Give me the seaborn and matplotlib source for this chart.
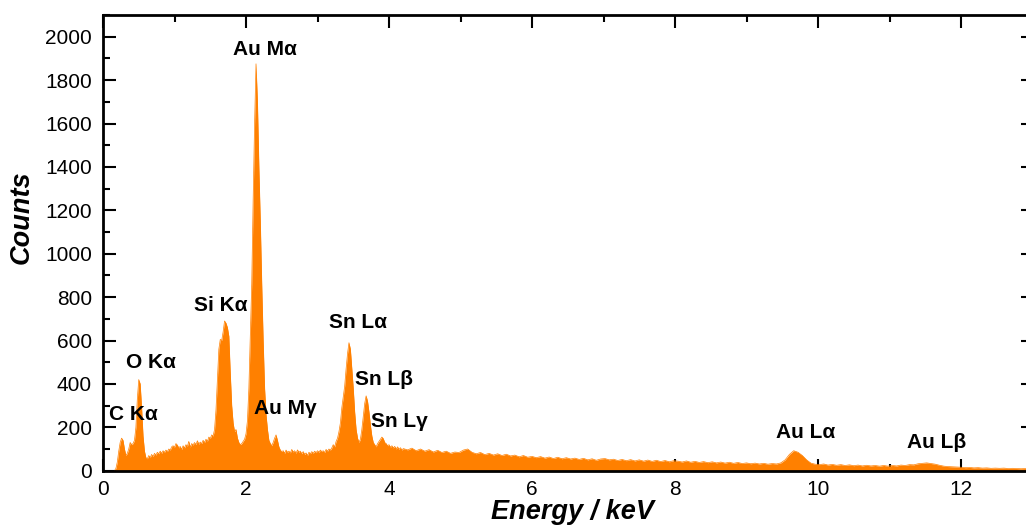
import numpy as np
import pandas as pd
import matplotlib
matplotlib.use("Agg")
import matplotlib.pyplot as plt
from matplotlib.ticker import MultipleLocator
import seaborn as sns

# ---- data ----
energy_low = [0.16, 0.18, 0.20, 0.22, 0.24, 0.26, 0.28, 0.30, 0.32, 0.34, 0.36, 0.38, 0.40, 0.42, 0.44, 0.46, 0.48, 0.50,
              0.52, 0.54, 0.56, 0.58, 0.60, 0.62, 0.64, 0.66, 0.68, 0.70, 0.72, 0.74, 0.76, 0.78, 0.80, 0.82, 0.84, 0.86,
              0.88, 0.90, 0.92, 0.94, 0.96, 0.98, 1.00, 1.02, 1.04, 1.06, 1.08, 1.10, 1.12, 1.14, 1.16, 1.18, 1.20, 1.22,
              1.24, 1.26, 1.28, 1.30, 1.32, 1.34, 1.36, 1.38, 1.40, 1.42, 1.44, 1.46, 1.48, 1.50, 1.52, 1.54, 1.56, 1.58,
              1.60, 1.62, 1.64, 1.66, 1.68, 1.70, 1.72, 1.74, 1.76, 1.78, 1.80, 1.82, 1.84, 1.86, 1.88, 1.90, 1.92, 1.94,
              1.96, 1.98, 2.00, 2.02, 2.04, 2.06, 2.08, 2.10, 2.12, 2.14, 2.16, 2.18, 2.20, 2.22, 2.24, 2.26, 2.28, 2.30,
              2.32, 2.34, 2.36, 2.38, 2.40, 2.42, 2.44, 2.46, 2.48, 2.50, 2.52, 2.54, 2.56, 2.58, 2.60, 2.62, 2.64, 2.66,
              2.68, 2.70, 2.72, 2.74, 2.76, 2.78, 2.80, 2.82, 2.84, 2.86, 2.88, 2.90, 2.92, 2.94, 2.96, 2.98, 3.00, 3.02,
              3.04, 3.06, 3.08, 3.10, 3.12, 3.14, 3.16, 3.18, 3.20, 3.22, 3.24, 3.26, 3.28, 3.30, 3.32, 3.34, 3.36, 3.38,
              3.40, 3.42, 3.44, 3.46, 3.48, 3.50, 3.52, 3.54, 3.56, 3.58, 3.60, 3.62, 3.64, 3.66, 3.68, 3.70, 3.72, 3.74,
              3.76, 3.78, 3.80, 3.82, 3.84, 3.86, 3.88, 3.90, 3.92, 3.94, 3.96, 3.98, 4.00, 4.02, 4.04, 4.06, 4.08, 4.10,
              4.12, 4.14, 4.16, 4.18, 4.20]
counts_low = [0, 10, 40, 90, 130, 150, 140, 100, 70, 80, 100, 130, 120, 125, 140, 200, 330, 420,
              400, 290, 160, 90, 60, 55, 70, 60, 75, 65, 80, 72, 85, 78, 90, 80, 92, 85,
              95, 88, 100, 95, 110, 115, 108, 125, 118, 105, 112, 98, 115, 105, 120, 112, 135, 108,
              125, 118, 130, 120, 138, 122, 132, 125, 140, 130, 145, 135, 155, 148, 165, 160, 190, 280,
              420, 560, 605, 600, 640, 690, 680, 660, 620, 450, 300, 220, 180, 190, 150, 130, 120, 125,
              135, 145, 170, 230, 380, 620, 860, 1250, 1600, 1875, 1700, 1400, 1150, 860, 600, 380, 260, 190,
              140, 125, 115, 130, 150, 165, 140, 110, 95, 88, 92, 80, 95, 85, 90, 82, 98, 86,
              92, 80, 96, 85, 90, 78, 88, 75, 82, 70, 85, 78, 88, 80, 90, 83, 92, 85,
              95, 88, 92, 84, 98, 90, 100, 95, 105, 120, 110, 135, 150, 180, 220, 290, 340, 390,
              470, 540, 590, 560, 470, 380, 270, 190, 150, 130, 145, 190, 250, 310, 345, 320, 270, 210,
              160, 130, 120, 110, 125, 135, 145, 155, 148, 130, 125, 115, 120, 108, 115, 105, 112, 100,
              110, 98, 106, 95, 102]

energy_high = [4.26, 4.32, 4.38, 4.44, 4.50, 4.56, 4.62, 4.68, 4.74, 4.80, 4.86, 4.92, 4.98, 5.04, 5.10, 5.16, 5.22, 5.28,
               5.34, 5.40, 5.46, 5.52, 5.58, 5.64, 5.70, 5.76, 5.82, 5.88, 5.94, 6.00, 6.06, 6.12, 6.18, 6.24, 6.30, 6.36,
               6.42, 6.48, 6.54, 6.60, 6.66, 6.72, 6.78, 6.84, 6.90, 6.96, 7.02, 7.08, 7.14, 7.20, 7.26, 7.32, 7.38, 7.44,
               7.50, 7.56, 7.62, 7.68, 7.74, 7.80, 7.86, 7.92, 7.98, 8.04, 8.10, 8.16, 8.22, 8.28, 8.34, 8.40, 8.46, 8.52,
               8.58, 8.64, 8.70, 8.76, 8.82, 8.88, 8.94, 9.00, 9.06, 9.12, 9.18, 9.24, 9.30, 9.36, 9.42, 9.48, 9.54, 9.60,
               9.66, 9.72, 9.78, 9.84, 9.90, 9.96, 10.02, 10.08, 10.14, 10.20, 10.26, 10.32, 10.38, 10.44, 10.50, 10.56,
               10.62, 10.68, 10.74, 10.80, 10.86, 10.92, 10.98, 11.04, 11.10, 11.16, 11.22, 11.28, 11.34, 11.40, 11.46,
               11.52, 11.58, 11.64, 11.70, 11.76, 11.82, 11.88, 11.94, 12.00, 12.06, 12.12, 12.18, 12.24, 12.30, 12.36,
               12.42, 12.48, 12.54, 12.60, 12.66, 12.72, 12.78, 12.84, 12.90, 12.96]
counts_high = [96, 104, 92, 100, 90, 97, 86, 94, 84, 90, 80, 86, 84, 95, 100, 85, 78, 84,
               74, 80, 72, 78, 70, 76, 68, 72, 64, 70, 62, 66, 60, 65, 58, 63, 56, 62,
               55, 60, 54, 58, 52, 57, 50, 55, 48, 54, 56, 50, 53, 47, 52, 46, 51, 45,
               50, 44, 49, 43, 48, 42, 47, 41, 46, 44, 40, 45, 39, 43, 38, 42, 37, 41,
               36, 40, 35, 39, 34, 38, 33, 36, 32, 35, 31, 34, 30, 33, 31, 36, 50, 75,
               92, 85, 70, 50, 35, 30, 28, 31, 26, 29, 25, 28, 24, 27, 23, 26,
               22, 25, 22, 24, 21, 24, 21, 24, 22, 26, 24, 28, 27, 32, 34,
               36, 33, 30, 25, 21, 19, 18, 17, 16, 14, 15, 13, 14, 12, 13,
               11, 12, 11, 12, 10, 11, 10, 9, 10, 9]

peak_labels = ["Au M\u03b1", "Si K\u03b1", "O K\u03b1", "C K\u03b1", "Au M\u03b3",
               "Sn L\u03b1", "Sn L\u03b2", "Sn L\u03b3", "Au L\u03b1", "Au L\u03b2"]
label_energy = [2.27, 1.64, 0.67, 0.42, 2.55, 3.57, 3.93, 4.15, 9.83, 11.66]
label_counts = [1940, 759, 497, 261, 285, 681, 418, 225, 178, 128]

x_ticks = [0, 2, 4, 6, 8, 10, 12]
y_ticks = [0, 200, 400, 600, 800, 1000, 1200, 1400, 1600, 1800, 2000]

# ---- plotting ----
sns.set_theme(style="ticks")
plt.rcParams["font.family"] = ["Liberation Sans", "DejaVu Sans"]

df = pd.DataFrame({"Energy": energy_low + energy_high,
                   "Counts": counts_low + counts_high})

color = "#FF8000"
fig = plt.figure(figsize=(10.26, 5.26), dpi=100)
ax = fig.add_axes([103 / 1026, (526 - 470.7) / 526, 929.5 / 1026, 455.7 / 526])

sns.lineplot(data=df, x="Energy", y="Counts", ax=ax, color=color, linewidth=0.5)
ax.fill_between(df["Energy"], 0, df["Counts"], color=color, linewidth=0)

ax.set_xlim(0, 13)
ax.set_ylim(0, 2100)
ax.set_xticks(x_ticks)
ax.set_yticks(y_ticks)
ax.xaxis.set_minor_locator(MultipleLocator(1))
ax.yaxis.set_minor_locator(MultipleLocator(100))
ax.tick_params(which="both", direction="in", top=True, right=True, colors="black",
               labelsize=15, width=1.5)
ax.tick_params(which="major", length=9)
ax.tick_params(which="minor", length=5)
ax.tick_params(axis="x", pad=7)
ax.tick_params(axis="y", pad=8)
for sp in ax.spines.values():
    sp.set_linewidth(2)
    sp.set_color("black")

ax.set_xlabel("Energy / keV", fontsize=19.5, fontweight="bold", fontstyle="italic", color="black")
ax.set_ylabel("Counts", fontsize=19.5, fontweight="bold", fontstyle="italic", color="black")
ax.xaxis.set_label_coords(0.505, -0.091)
ax.yaxis.set_label_coords(-0.087, 0.557)
ax.xaxis.label.set_va("center")
ax.yaxis.label.set_va("center")

for t, xe, yc in zip(peak_labels, label_energy, label_counts):
    ax.text(xe, yc, t, ha="center", va="center", fontsize=15, fontweight="bold", color="black")

fig.savefig("out.png", dpi=100)
